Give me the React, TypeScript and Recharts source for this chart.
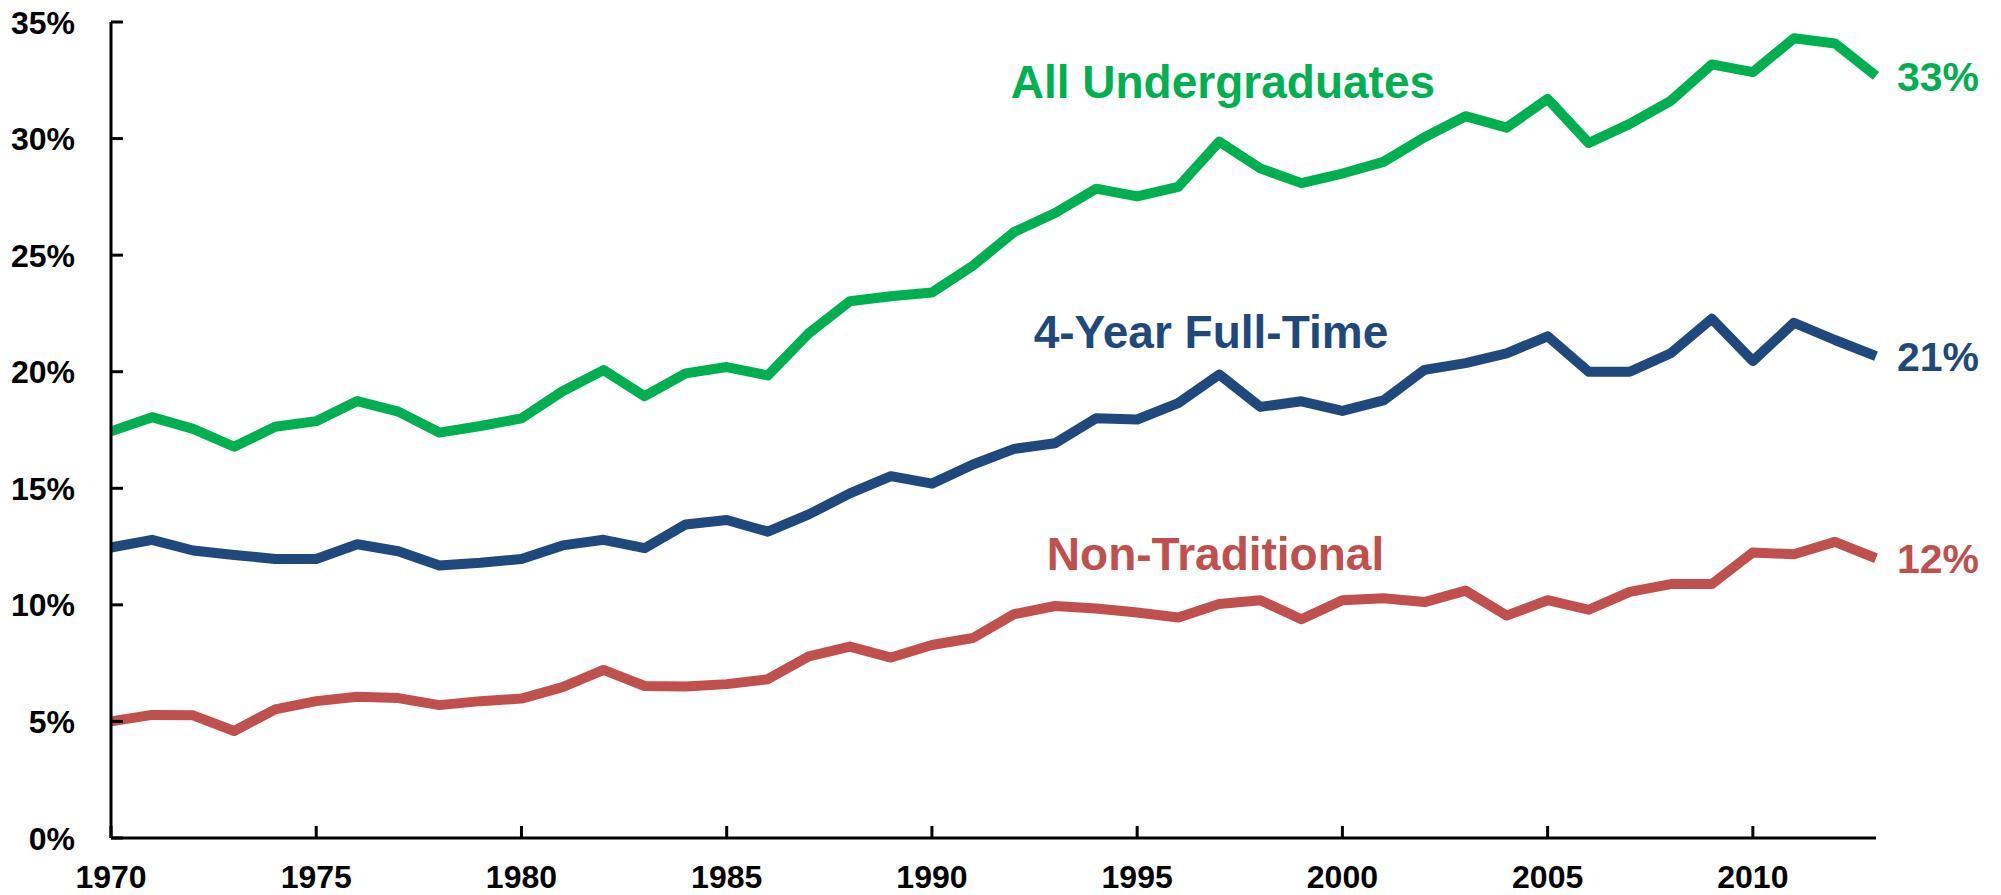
import { LineChart, Line, XAxis, YAxis, ReferenceDot } from "recharts";

const years = [
  1970, 1971, 1972, 1973, 1974, 1975, 1976, 1977, 1978, 1979,
  1980, 1981, 1982, 1983, 1984, 1985, 1986, 1987, 1988, 1989,
  1990, 1991, 1992, 1993, 1994, 1995, 1996, 1997, 1998, 1999,
  2000, 2001, 2002, 2003, 2004, 2005, 2006, 2007, 2008, 2009,
  2010, 2011, 2012, 2013,
];

const allUndergrad = [
  17.44, 18.05, 17.55, 16.78, 17.64, 17.88, 18.74, 18.29, 17.39, 17.67,
  18.0, 19.16, 20.07, 18.95, 19.93, 20.2, 19.84, 21.65, 23.02, 23.24,
  23.4, 24.55, 25.99, 26.81, 27.85, 27.52, 27.93, 29.87, 28.72, 28.09,
  28.5, 29.0, 30.06, 30.96, 30.47, 31.7, 29.81, 30.63, 31.62, 33.18,
  32.85, 34.3, 34.08, 32.69,
];

const fourYearFullTime = [
  12.46, 12.79, 12.33, 12.14, 11.97, 11.97, 12.6, 12.3, 11.69, 11.81,
  11.97, 12.55, 12.79, 12.43, 13.45, 13.64, 13.14, 13.88, 14.78, 15.52,
  15.2, 16.02, 16.69, 16.93, 18.0, 17.95, 18.65, 19.88, 18.49, 18.73,
  18.32, 18.77, 20.08, 20.37, 20.79, 21.52, 20.0, 20.0, 20.79, 22.27,
  20.46, 22.1, 21.36, 20.67,
];

const nonTraditional = [
  5.0, 5.28, 5.26, 4.59, 5.52, 5.87, 6.06, 6.0, 5.7, 5.87,
  5.98, 6.47, 7.21, 6.52, 6.5, 6.6, 6.81, 7.79, 8.21, 7.74,
  8.28, 8.58, 9.6, 9.95, 9.84, 9.67, 9.46, 10.04, 10.2, 9.38,
  10.2, 10.28, 10.12, 10.61, 9.54, 10.2, 9.79, 10.56, 10.89, 10.89,
  12.25, 12.17, 12.7, 12.0,
];

const xTicks = [1970, 1975, 1980, 1985, 1990, 1995, 2000, 2005, 2010];
const yTicks = [0, 5, 10, 15, 20, 25, 30, 35];
const seriesNames = ["All Undergraduates", "4-Year Full-Time", "Non-Traditional"];

const GREEN = "#00B050";
const BLUE = "#1F497D";
const RED = "#C0504D";
const FONT = '"Liberation Sans", Arial, sans-serif';

const data = years.map((year, i) => ({
  year,
  all: allUndergrad[i],
  four: fourYearFullTime[i],
  nontrad: nonTraditional[i],
}));

const last = years.length - 1;

function YTick(props: any) {
  const { x, y, payload } = props;
  const axisX = x + 36;
  return (
    <g>
      <line x1={axisX} x2={axisX + 12} y1={y} y2={y} stroke="#000" strokeWidth={3} />
      <text
        x={x}
        y={y}
        dy="0.36em"
        textAnchor="end"
        fontFamily={FONT}
        fontWeight="bold"
        fontSize={32}
        fill="#000"
      >
        {payload.value}%
      </text>
    </g>
  );
}

function XTick(props: any) {
  const { x, y, payload } = props;
  const axisY = y - 50;
  return (
    <g>
      <line x1={x} x2={x} y1={axisY} y2={axisY - 12} stroke="#000" strokeWidth={3} />
      <text
        x={x}
        y={y}
        textAnchor="middle"
        fontFamily={FONT}
        fontWeight="bold"
        fontSize={32}
        fill="#000"
      >
        {payload.value}
      </text>
    </g>
  );
}

// label at the end of each line: rounded last value
const endLabel = (color: string, value: number) => (p: any) => {
  const vb = p.viewBox || {};
  return (
    <text
      x={vb.x + 21}
      y={vb.y}
      dy="0.36em"
      fontFamily={FONT}
      fontWeight="bold"
      fontSize={41}
      fill={color}
    >
      {Math.round(value)}%
    </text>
  );
};

const nameLabel = (color: string, text: string) => (p: any) => {
  const vb = p.viewBox || {};
  return (
    <text
      x={vb.x}
      y={vb.y}
      fontFamily={FONT}
      fontWeight="bold"
      fontSize={46}
      fill={color}
    >
      {text}
    </text>
  );
};

function App() {
  return (
    <div style={{ position: "absolute", left: 0, top: 0, background: "#fff" }}>
      <LineChart
        width={2001}
        height={895}
        data={data}
        margin={{ top: 22, right: 125, bottom: 0, left: 0 }}
      >
        <XAxis
          dataKey="year"
          type="number"
          domain={[1970, 2013]}
          ticks={xTicks}
          interval={0}
          height={57}
          axisLine={{ stroke: "#000", strokeWidth: 3 }}
          tickLine={false}
          tickSize={0}
          tickMargin={50}
          tick={<XTick />}
        />
        <YAxis
          type="number"
          domain={[0, 35]}
          ticks={yTicks}
          interval={0}
          width={111}
          axisLine={{ stroke: "#000", strokeWidth: 3 }}
          tickLine={false}
          tickSize={0}
          tickMargin={36}
          tick={<YTick />}
        />

        <Line
          dataKey="all"
          type="linear"
          stroke={GREEN}
          strokeWidth={10}
          strokeLinejoin="round"
          dot={false}
          activeDot={false}
          isAnimationActive={false}
        />
        <Line
          dataKey="four"
          type="linear"
          stroke={BLUE}
          strokeWidth={10}
          strokeLinejoin="round"
          dot={false}
          activeDot={false}
          isAnimationActive={false}
        />
        <Line
          dataKey="nontrad"
          type="linear"
          stroke={RED}
          strokeWidth={10}
          strokeLinejoin="round"
          dot={false}
          activeDot={false}
          isAnimationActive={false}
        />

        <ReferenceDot
          x={years[last]}
          y={allUndergrad[last]}
          r={0}
          fill="none"
          stroke="none"
          label={endLabel(GREEN, allUndergrad[last])}
        />
        <ReferenceDot
          x={years[last]}
          y={fourYearFullTime[last]}
          r={0}
          fill="none"
          stroke="none"
          label={endLabel(BLUE, fourYearFullTime[last])}
        />
        <ReferenceDot
          x={years[last]}
          y={nonTraditional[last]}
          r={0}
          fill="none"
          stroke="none"
          label={endLabel(RED, nonTraditional[last])}
        />

        <ReferenceDot
          x={1991.92}
          y={31.74}
          r={0}
          fill="none"
          stroke="none"
          label={nameLabel(GREEN, seriesNames[0])}
        />
        <ReferenceDot
          x={1992.48}
          y={21.02}
          r={0}
          fill="none"
          stroke="none"
          label={nameLabel(BLUE, seriesNames[1])}
        />
        <ReferenceDot
          x={1992.8}
          y={11.5}
          r={0}
          fill="none"
          stroke="none"
          label={nameLabel(RED, seriesNames[2])}
        />
      </LineChart>
    </div>
  );
}

export default App;
